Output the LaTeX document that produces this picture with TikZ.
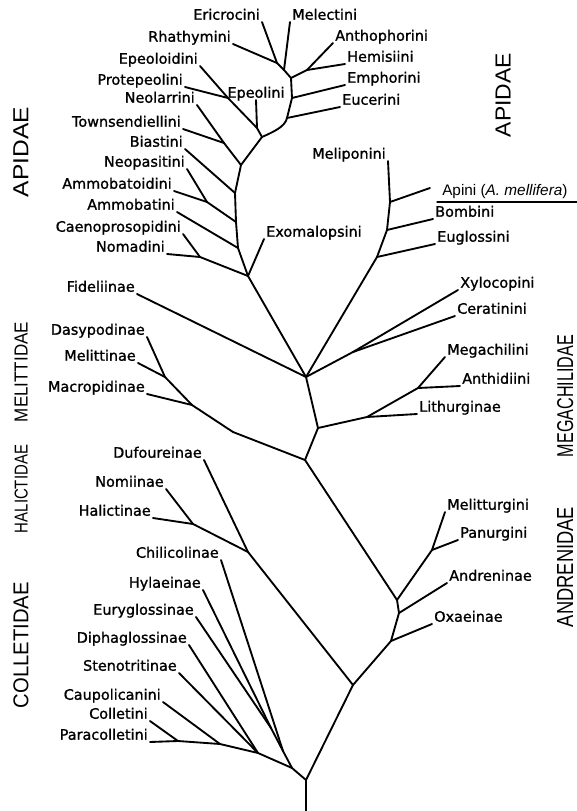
\documentclass[tikz,border=0pt]{standalone}
\usepackage{fontspec}
\setsansfont{Liberation Sans}
\newfontfamily\taxfont[FakeBold=1.2]{DejaVu Sans}
\newlength\pxu
\setlength\pxu{0.75pt}
\newcommand{\famname}[3]{\resizebox{#1\pxu}{#2\pxu}{#3}}

\begin{document}
\begin{tikzpicture}[x=0.75pt, y=-0.75pt,
                line width=1.4pt,
                line cap=round, line join=round,
                every node/.style = {inner sep=1pt, text depth=0pt},
                leftlab/.style = {anchor=south east, font=\taxfont\fontsize{10.8}{12}\selectfont},
                rightlab/.style = {anchor=south west, font=\taxfont\fontsize{10.8}{12}\selectfont},
                famlab/.style = {rotate=90, font=\sffamily, inner sep=0pt}]
            \useasboundingbox (0,0) rectangle (577,811);

            % Apidae
            \node (ericrocini) [leftlab] at (262,22) {Ericrocini};
            \node (rhathymini) [leftlab] at (233,44) {Rhathymini};
            \node (melectini) [rightlab] at (290,22) {Melectini};
            \node (anthophorini) [rightlab] at (333,43) {Anthophorini};
            \node (hemisiini) [rightlab] at (345,64) {Hemisiini};
            \node (emphorini) [rightlab] at (345,85) {Emphorini};
            \node (eucerini) [rightlab] at (340,107) {Eucerini};
            \node (epeolini) [leftlab, anchor=south] at (256,100) {Epeolini};
            \node (epeoloidini) [leftlab] at (200,66) {Epeoloidini};
            \node (protepeolini) [leftlab] at (185,87) {Protepeolini};
            \node (neolarrini) [leftlab] at (197,105) {Neolarrini};
            \node (townsendiellini) [leftlab] at (183,129) {Townsendiellini};
            \node (biastini) [leftlab] at (185,149) {Biastini};
            \node (neopasitini) [leftlab] at (187,169) {Neopasitini};
            \node (ammobatoidini) [leftlab] at (174,191) {Ammobatoidini};
            \node (ammobatini) [leftlab] at (177,212) {Ammobatini};
            \node (caenoprosopidini) [leftlab] at (183,234) {Caenoprosopidini};
            \node (nomadini) [leftlab] at (167,254) {Nomadini};
            \node (exomalopsini) [rightlab] at (264,239) {Exomalopsini};
            \node (meliponini) [leftlab] at (388,161) {Meliponini};
            \node (apini) [anchor=south west, font=\sffamily\fontsize{11.5}{13}\selectfont] at (440,198) {Apini (\textit{A. mellifera})};
            \node (bombini) [rightlab] at (433,219) {Bombini};
            \node (euglossini) [rightlab] at (435,244) {Euglossini};
            \node (xylocopini) [rightlab] at (458,290) {Xylocopini};
            \node (ceratinini) [rightlab] at (455,316) {Ceratinini};
            \node (fideliinae) [leftlab] at (137,294) {Fideliinae};

            % Megachilidae
            \node (megachilini) [rightlab] at (445,357) {Megachilini};
            \node (anthidiini) [rightlab] at (460,386) {Anthidiini};
            \node (lithurginae) [rightlab] at (417,414) {Lithurginae};

            % Melittidae
            \node (dasypodinae) [leftlab] at (147,337) {Dasypodinae};
            \node (melittinae) [leftlab] at (138,363) {Melittinae};
            \node (macropidinae) [leftlab] at (147,394) {Macropidinae};

            % Halictidae
            \node (dufoureinae) [leftlab] at (204,460) {Dufoureinae};
            \node (nomiinae) [leftlab] at (166,489) {Nomiinae};
            \node (halictinae) [leftlab] at (153,518) {Halictinae};

            % Andrenidae
            \node (melitturgini) [rightlab] at (445,512) {Melitturgini};
            \node (panurgini) [rightlab] at (458,540) {Panurgini};
            \node (andreninae) [rightlab] at (447,583) {Andreninae};
            \node (oxaeinae) [rightlab] at (432,624) {Oxaeinae};

            % Colletidae
            \node (chilicolinae) [leftlab] at (221,560) {Chilicolinae};
            \node (hylaeinae) [leftlab] at (203,590) {Hylaeinae};
            \node (euryglossinae) [leftlab] at (196,617) {Euryglossinae};
            \node (diphaglossinae) [leftlab] at (189,645) {Diphaglossinae};
            \node (stenotritinae) [leftlab] at (179,673) {Stenotritinae};
            \node (caupolicanini) [leftlab] at (163,702) {Caupolicanini};
            \node (colletini) [leftlab] at (150,721) {Colletini};
            \node (paracolletini) [leftlab] at (150,742) {Paracolletini};

            % families
            \node (apidaeL) [famlab] at (21,152) {\famname{90}{15}{APIDAE}};
            \node (apidaeR) [famlab] at (503,95) {\famname{84}{15}{APIDAE}};
            \node (melittidae) [famlab] at (21,372) {\famname{100}{13}{MELITTIDAE}};
            \node (halictidae) [famlab] at (21,489) {\famname{88}{13}{HALICTIDAE}};
            \node (colletidae) [famlab] at (21,645) {\famname{126}{15}{COLLETIDAE}};
            \node (megachilidae) [famlab] at (565,396) {\famname{122}{16}{MEGACHILIDAE}};
            \node (andrenidae) [famlab] at (565,567) {\famname{120}{16}{ANDRENIDAE}};

            % branching points
            \coordinate (er) at (277,63);
            \coordinate (me) at (284,70);
            \coordinate (ah) at (307,70);
            \coordinate (an) at (291,78);
            \coordinate (em) at (292,98);
            \coordinate (eu) at (287,118);
            \coordinate (epp) at (228,98);
            \coordinate (epl) at (257,128);
            \coordinate (ap) at (262,137);
            \coordinate (nt) at (224,143);
            \coordinate (nl) at (241,165);
            \coordinate (bi) at (235,193);
            \coordinate (na) at (207,202);
            \coordinate (nab) at (236,222);
            \coordinate (am) at (238,248);
            \coordinate (cn) at (200,257);
            \coordinate (nm) at (248,276);
            \coordinate (apinitip) at (430,188);
            \coordinate (rulel) at (437,202);
            \coordinate (ruler) at (577,202);
            \coordinate (apj) at (390,202);
            \coordinate (boj) at (387,230);
            \coordinate (euj) at (377,257);
            \coordinate (xc) at (353,352);
            \coordinate (lt) at (306,377);
            \coordinate (ma) at (418,388);
            \coordinate (li) at (367,417);
            \coordinate (mg) at (318,428);
            \coordinate (dm) at (165,377);
            \coordinate (mac) at (192,405);
            \coordinate (melbend) at (233,432);
            \coordinate (ml) at (305,460);
            \coordinate (mp) at (432,550);
            \coordinate (anr) at (397,600);
            \coordinate (anj) at (399,613);
            \coordinate (ox) at (391,641);
            \coordinate (nh) at (193,524);
            \coordinate (hd) at (248,552);
            \coordinate (hx) at (353,685);
            \coordinate (pc) at (178,741);
            \coordinate (cau) at (220,744);
            \coordinate (sd) at (258,753);
            \coordinate (hyeu) at (271,728);
            \coordinate (ch) at (283,751);
            \coordinate (cb) at (292,768);
            \coordinate (root) at (306,780);
            \coordinate (base) at (306,811);

            \draw (an) -- (em) -- (eu) .. controls (285,127) and (273,132) .. (ap);
            \draw[line width=1pt] (rulel) -- (ruler);

            \path
            (ericrocini.south east)     edge (er)
            (rhathymini.south east)     edge (er)
            (er)                        edge (me)
            (melectini.south west)      edge (me)
            (me)                        edge (an)
            (anthophorini.south west)   edge (ah)
            (hemisiini.south west)      edge (ah)
            (ah)                        edge (an)
            (emphorini.south west)      edge (em)
            (eucerini.south west)       edge (eu)
            (epeoloidini.south east)    edge (epp)
            (protepeolini.south east)   edge (epp)
            (epp)                       edge (epl)
            (epeolini.south)            edge (epl)
            (epl)                       edge (ap)
            (ap)                        edge (nl)
            (neolarrini.south east)     edge (nt)
            (townsendiellini.south east) edge (nt)
            (nt)                        edge (nl)
            (nl)                        edge (bi)
            (biastini.south east)       edge (bi)
            (bi)                        edge (nab)
            (neopasitini.south east)    edge (na)
            (ammobatoidini.south east)  edge (na)
            (na)                        edge (nab)
            (nab)                       edge (am)
            (ammobatini.south east)     edge (am)
            (am)                        edge (nm)
            (caenoprosopidini.south east) edge (cn)
            (nomadini.south east)       edge (cn)
            (cn)                        edge (nm)
            (exomalopsini.south west)   edge (nm)
            (nm)                        edge (lt)
            (fideliinae.south east)     edge (lt)
            (meliponini.south east)     edge (apj)
            (apinitip)                  edge (apj)
            (apj)                       edge (boj)
            (bombini.south west)        edge (boj)
            (boj)                       edge (euj)
            (euglossini.south west)     edge (euj)
            (euj)                       edge (lt)
            (xylocopini.south west)     edge (xc)
            (ceratinini.south west)     edge (xc)
            (xc)                        edge (lt)
            (lt)                        edge (mg)
            (megachilini.south west)    edge (ma)
            (anthidiini.south west)     edge (ma)
            (ma)                        edge (li)
            (lithurginae.south west)    edge (li)
            (li)                        edge (mg)
            (mg)                        edge (ml)
            (dasypodinae.south east)    edge (dm)
            (melittinae.south east)     edge (dm)
            (dm)                        edge (mac)
            (macropidinae.south east)   edge (mac)
            (mac)                       edge (melbend)
            (melbend)                   edge (ml)
            (ml)                        edge (anr)
            (melitturgini.south west)   edge (mp)
            (panurgini.south west)      edge (mp)
            (mp)                        edge (anr)
            (anr)                       edge (anj)
            (andreninae.south west)     edge (anj)
            (anj)                       edge (ox)
            (oxaeinae.south west)       edge (ox)
            (ox)                        edge (hx)
            (dufoureinae.south east)    edge (hd)
            (nomiinae.south east)       edge (nh)
            (halictinae.south east)     edge (nh)
            (nh)                        edge (hd)
            (hd)                        edge (hx)
            (hx)                        edge (root)
            (colletini.south east)      edge (pc)
            (paracolletini.south east)  edge (pc)
            (pc)                        edge (cau)
            (caupolicanini.south east)  edge (cau)
            (cau)                       edge (sd)
            (stenotritinae.south east)  edge (sd)
            (diphaglossinae.south east) edge (sd)
            (sd)                        edge (cb)
            (euryglossinae.south east)  edge (hyeu)
            (hylaeinae.south east)      edge (hyeu)
            (hyeu)                      edge (ch)
            (chilicolinae.south east)   edge (ch)
            (ch)                        edge (cb)
            (cb)                        edge (root)
            (root)                      edge (base);
        \end{tikzpicture}
\end{document}
